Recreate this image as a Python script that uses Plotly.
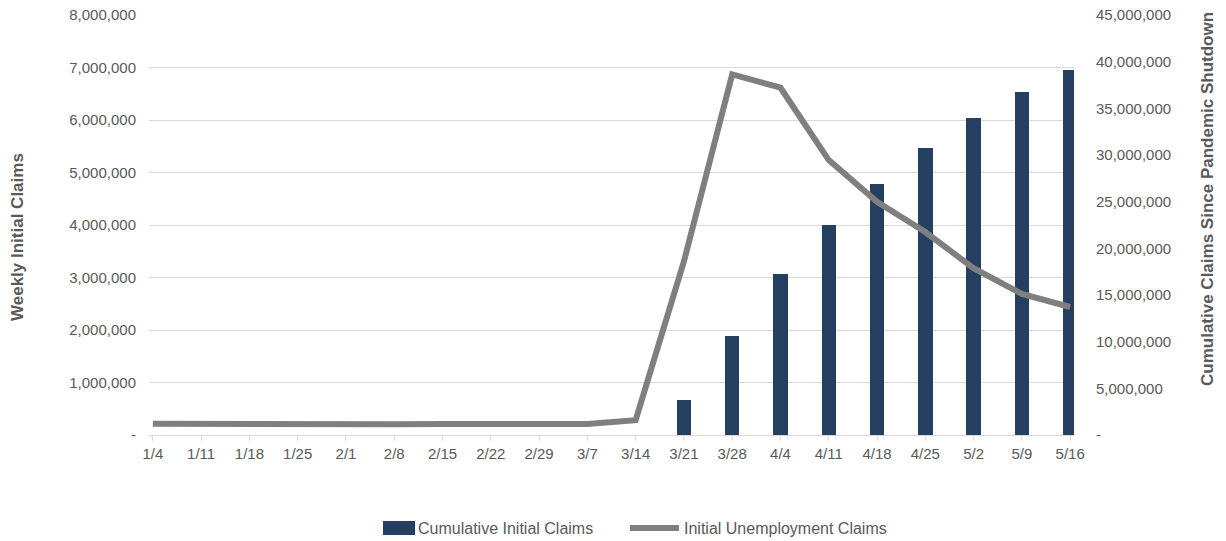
import plotly.graph_objects as go

# Week-ending dates (2020)
weeks = ["1/4", "1/11", "1/18", "1/25", "2/1", "2/8", "2/15", "2/22", "2/29", "3/7",
         "3/14", "3/21", "3/28", "4/4", "4/11", "4/18", "4/25", "5/2", "5/9", "5/16"]

# Weekly initial unemployment claims
weekly_claims = [214000, 207000, 223000, 216000, 202000, 205000, 210000, 219000, 216000, 211000,
                 282000, 3307000, 6867000, 6615000, 5237000, 4442000, 3867000, 3176000, 2687000, 2438000]

# Cumulative initial claims since the pandemic shutdown (None before it began)
cumulative_claims = [None] * 11 + [3800000, 10600000, 17300000, 22500000, 26900000,
                                   30800000, 34000000, 36700000, 39100000]

left_ticks = [0, 1e6, 2e6, 3e6, 4e6, 5e6, 6e6, 7e6, 8e6]
left_labels = ["-", "1,000,000", "2,000,000", "3,000,000", "4,000,000",
               "5,000,000", "6,000,000", "7,000,000", "8,000,000"]
right_ticks = [0, 5e6, 10e6, 15e6, 20e6, 25e6, 30e6, 35e6, 40e6, 45e6]
right_labels = ["-", "5,000,000", "10,000,000", "15,000,000", "20,000,000", "25,000,000",
                "30,000,000", "35,000,000", "40,000,000", "45,000,000"]

FONT = "Liberation Sans, Arial, sans-serif"
GRAY = "#595959"
GRID = "#d9d9d9"
BAR_COLOR = "#243f60"
LINE_COLOR = "#7f7f7f"

W, H = 1226, 541
ML, MR, MT, MB = 149, 152, 15, 106
PW, PH = W - ML - MR, H - MT - MB


def px_x(x):
    """Convert a horizontal pixel position to paper coordinates."""
    return (x - ML) / PW


def px_y(y):
    """Convert a vertical pixel position (from top) to paper coordinates."""
    return (H - MB - y) / PH


fig = go.Figure()

# Bars use the primary axis (placed on the right) so the line overlays them
fig.add_trace(go.Bar(
    x=list(range(len(weeks))), y=cumulative_claims,
    name="Cumulative Initial Claims",
    marker=dict(color=BAR_COLOR, line=dict(width=0)),
    width=0.3, yaxis="y",
))
fig.add_trace(go.Scatter(
    x=list(range(len(weeks))), y=weekly_claims,
    name="Initial Unemployment Claims",
    mode="lines", line=dict(color=LINE_COLOR, width=6),
    yaxis="y2",
))

fig.update_layout(
    width=W, height=H,
    margin=dict(l=ML, r=MR, t=MT, b=MB, autoexpand=False),
    paper_bgcolor="white", plot_bgcolor="white",
    font=dict(family=FONT, size=15, color=GRAY),
    showlegend=False,
    xaxis=dict(
        range=[-0.08, 19.08], automargin=False,
        tickmode="array", tickvals=list(range(len(weeks))), ticktext=weeks,
        showline=True, linecolor=GRID, linewidth=1,
        ticks="outside", ticklen=5, tickcolor=GRID,
        showgrid=False, zeroline=False,
        tickfont=dict(size=15, color=GRAY),
    ),
    yaxis=dict(
        side="right", range=[0, 45e6], automargin=False,
        tickmode="array", tickvals=right_ticks, ticktext=right_labels,
        showgrid=False, zeroline=False, showline=False,
        ticks="", ticklabelstandoff=21,
        tickfont=dict(size=15, color=GRAY),
    ),
    yaxis2=dict(
        side="left", overlaying="y", range=[0, 8e6], automargin=False,
        tickmode="array", tickvals=left_ticks, ticktext=left_labels,
        showgrid=True, gridcolor=GRID, gridwidth=1,
        zeroline=False, showline=False,
        ticks="", ticklabelstandoff=12,
        tickfont=dict(size=15, color=GRAY),
    ),
    bargap=0,
)

# Axis titles
fig.add_annotation(
    text="<b>Weekly Initial Claims</b>", xref="paper", yref="paper",
    x=px_x(17), y=px_y(237), textangle=-90,
    showarrow=False, font=dict(size=17, color=GRAY, family=FONT),
    xanchor="center", yanchor="middle",
)
fig.add_annotation(
    text="<b>Cumulative Claims Since Pandemic Shutdown</b>", xref="paper", yref="paper",
    x=px_x(1207), y=px_y(199), textangle=-90,
    showarrow=False, font=dict(size=17, color=GRAY, family=FONT),
    xanchor="center", yanchor="middle",
)

# Legend drawn below the plot: wide bar swatch and thick line swatch
legend_y = 528
fig.add_shape(
    type="rect", xref="paper", yref="paper",
    x0=px_x(383), x1=px_x(415), y0=px_y(535), y1=px_y(521),
    fillcolor=BAR_COLOR, line=dict(width=0),
)
fig.add_annotation(
    text="Cumulative Initial Claims", xref="paper", yref="paper",
    x=px_x(416), y=px_y(legend_y), xanchor="left", yanchor="middle",
    showarrow=False, font=dict(size=16, color=GRAY, family=FONT),
)
fig.add_shape(
    type="line", xref="paper", yref="paper",
    x0=px_x(630), x1=px_x(679), y0=px_y(legend_y), y1=px_y(legend_y),
    line=dict(color=LINE_COLOR, width=6),
)
fig.add_annotation(
    text="Initial Unemployment Claims", xref="paper", yref="paper",
    x=px_x(682), y=px_y(legend_y), xanchor="left", yanchor="middle",
    showarrow=False, font=dict(size=16, color=GRAY, family=FONT),
)

fig.write_html("out.html")
